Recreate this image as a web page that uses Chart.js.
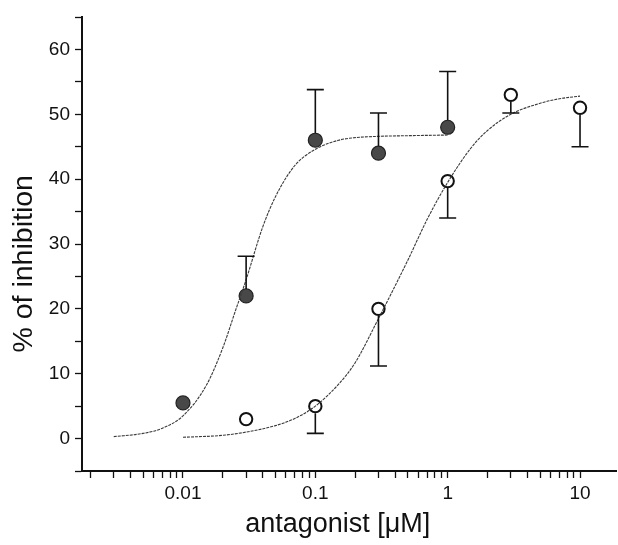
<!DOCTYPE html>
<html>
<head>
<meta charset="utf-8">
<script src="https://cdn.jsdelivr.net/npm/chart.js@4.4.1/dist/chart.umd.min.js"></script>
<style>
html,body{margin:0;padding:0;background:#fff;}
#wrap{width:618px;height:545px;position:relative;}
</style>
</head>
<body>
<div id="wrap"><canvas id="c" width="618" height="545"></canvas></div>
<script>
// ---- data ----
const filledX = [0.01, 0.03, 0.1, 0.3, 1];
const filledY = [5.5, 22, 46, 44, 48];
const filledErrUp = [0, 6.1, 7.8, 6.2, 8.6];

const openX = [0.03, 0.1, 0.3, 1, 3, 10];
const openY = [3, 5, 20, 39.7, 53, 51];
const openErrDown = [0, 4.2, 8.8, 5.7, 2.8, 6];

const filledCurveX = [0.003, 0.005, 0.007, 0.01, 0.015, 0.02, 0.025, 0.03, 0.04, 0.05, 0.07, 0.1, 0.15, 0.2, 0.3, 0.5, 1];
const filledCurveY = [0.3, 0.8, 1.6, 3.5, 8.2, 14.0, 19.8, 24.5, 32.6, 37.3, 42.1, 44.6, 46.0, 46.4, 46.6, 46.7, 46.8];

const openCurveX = [0.01, 0.02, 0.03, 0.05, 0.07, 0.1, 0.15, 0.2, 0.3, 0.5, 0.7, 1, 1.5, 2, 3, 5, 7, 10];
const openCurveY = [0.2, 0.5, 1.0, 2.0, 3.1, 5.0, 8.4, 11.7, 18.5, 27.5, 33.8, 39.5, 44.8, 47.5, 50.0, 51.7, 52.4, 52.8];

const xTickValues = [0.002,0.003,0.004,0.005,0.006,0.007,0.008,0.009,
  0.01,0.02,0.03,0.04,0.05,0.06,0.07,0.08,0.09,
  0.1,0.2,0.3,0.4,0.5,0.6,0.7,0.8,0.9,
  1,2,3,4,5,6,7,8,9,10];
const xTickLabels = {0.01:'0.01', 0.1:'0.1', 1:'1', 10:'10'};
const yTickValues = [-5,0,5,10,15,20,25,30,35,40,45,50,55,60,65];
const yTickLabels = {0:'0',10:'10',20:'20',30:'30',40:'40',50:'50',60:'60'};

const pts = (xs, ys) => xs.map((x, i) => ({x: x, y: ys[i]}));

const errorBars = {
  id: 'errorBars',
  afterDatasetsDraw(chart) {
    const ctx = chart.ctx;
    const xs = chart.scales.x, ys = chart.scales.y;
    const cap = 8.5;
    ctx.save();
    ctx.strokeStyle = '#111';
    ctx.lineWidth = 1.6;
    const draw = (xArr, yArr, errArr, dir) => {
      xArr.forEach((x, i) => {
        const e = errArr[i];
        if (!e) return;
        const px = xs.getPixelForValue(x);
        const py0 = ys.getPixelForValue(yArr[i]);
        const py1 = ys.getPixelForValue(yArr[i] + dir * e);
        const r = 7;
        const start = py0 + (dir > 0 ? -r : r);
        ctx.beginPath();
        ctx.moveTo(px, start);
        ctx.lineTo(px, py1);
        ctx.moveTo(px - cap, py1);
        ctx.lineTo(px + cap, py1);
        ctx.stroke();
      });
    };
    draw(filledX, filledY, filledErrUp, 1);
    draw(openX, openY, openErrDown, -1);
    ctx.restore();
  }
};

const font = "'Liberation Sans', Arial, Helvetica, sans-serif";

new Chart(document.getElementById('c'), {
  type: 'scatter',
  data: {
    datasets: [
      {
        data: pts(filledCurveX, filledCurveY),
        showLine: true, pointRadius: 0, borderColor: '#3a3a3a', borderWidth: 1.1,
        borderDash: [3, 1], cubicInterpolationMode: 'monotone', fill: false
      },
      {
        data: pts(openCurveX, openCurveY),
        showLine: true, pointRadius: 0, borderColor: '#3a3a3a', borderWidth: 1.1,
        borderDash: [3, 1], cubicInterpolationMode: 'monotone', fill: false
      },
      {
        data: pts(filledX, filledY),
        pointRadius: 7, pointBackgroundColor: '#484848', pointBorderColor: '#222', pointBorderWidth: 1.2
      },
      {
        data: pts(openX, openY),
        pointRadius: 6.2, pointBackgroundColor: '#fff', pointBorderColor: '#111', pointBorderWidth: 2
      }
    ]
  },
  options: {
    responsive: false,
    animation: false,
    layout: {autoPadding: false, padding: {top: 17, right: 2, left: 0, bottom: 0}},
    plugins: {legend: {display: false}, tooltip: {enabled: false}},
    scales: {
      x: {
        type: 'logarithmic',
        min: 0.001726, max: 18.7,
        afterBuildTicks(axis) { axis.ticks = xTickValues.map(v => ({value: v})); },
        afterFit(axis) { axis.height = 74; axis.paddingLeft = 0; axis.paddingRight = 0; },
        ticks: {
          autoSkip: false, maxRotation: 0, padding: 4, color: '#111',
          font: {family: font, size: 19},
          callback(v) { return xTickLabels[v] !== undefined ? xTickLabels[v] : ''; }
        },
        grid: {drawOnChartArea: false, drawTicks: true, tickLength: 7, tickColor: '#111', tickWidth: 1.3},
        border: {display: true, color: '#111', width: 2},
        title: {display: true, text: 'antagonist [\u03bcM]   ', color: '#111',
          font: {family: font, size: 27}, padding: {top: 0, bottom: 4}}
      },
      y: {
        min: -5, max: 65,
        afterBuildTicks(axis) { axis.ticks = yTickValues.map(v => ({value: v})); },
        afterFit(axis) { axis.width = 82; },
        ticks: {
          autoSkip: false, padding: 5, color: '#111',
          font: {family: font, size: 19},
          callback(v) { return yTickLabels[v] !== undefined ? yTickLabels[v] : ''; }
        },
        grid: {drawOnChartArea: false, drawTicks: true, tickLength: 7, tickColor: '#111', tickWidth: 1.3},
        border: {display: true, color: '#111', width: 2},
        title: {display: true, text: '% of inhibition     ', color: '#111',
          font: {family: font, size: 28.5}, padding: {top: 7, bottom: 0}}
      }
    }
  },
  plugins: [errorBars]
});
</script>
</body>
</html>
